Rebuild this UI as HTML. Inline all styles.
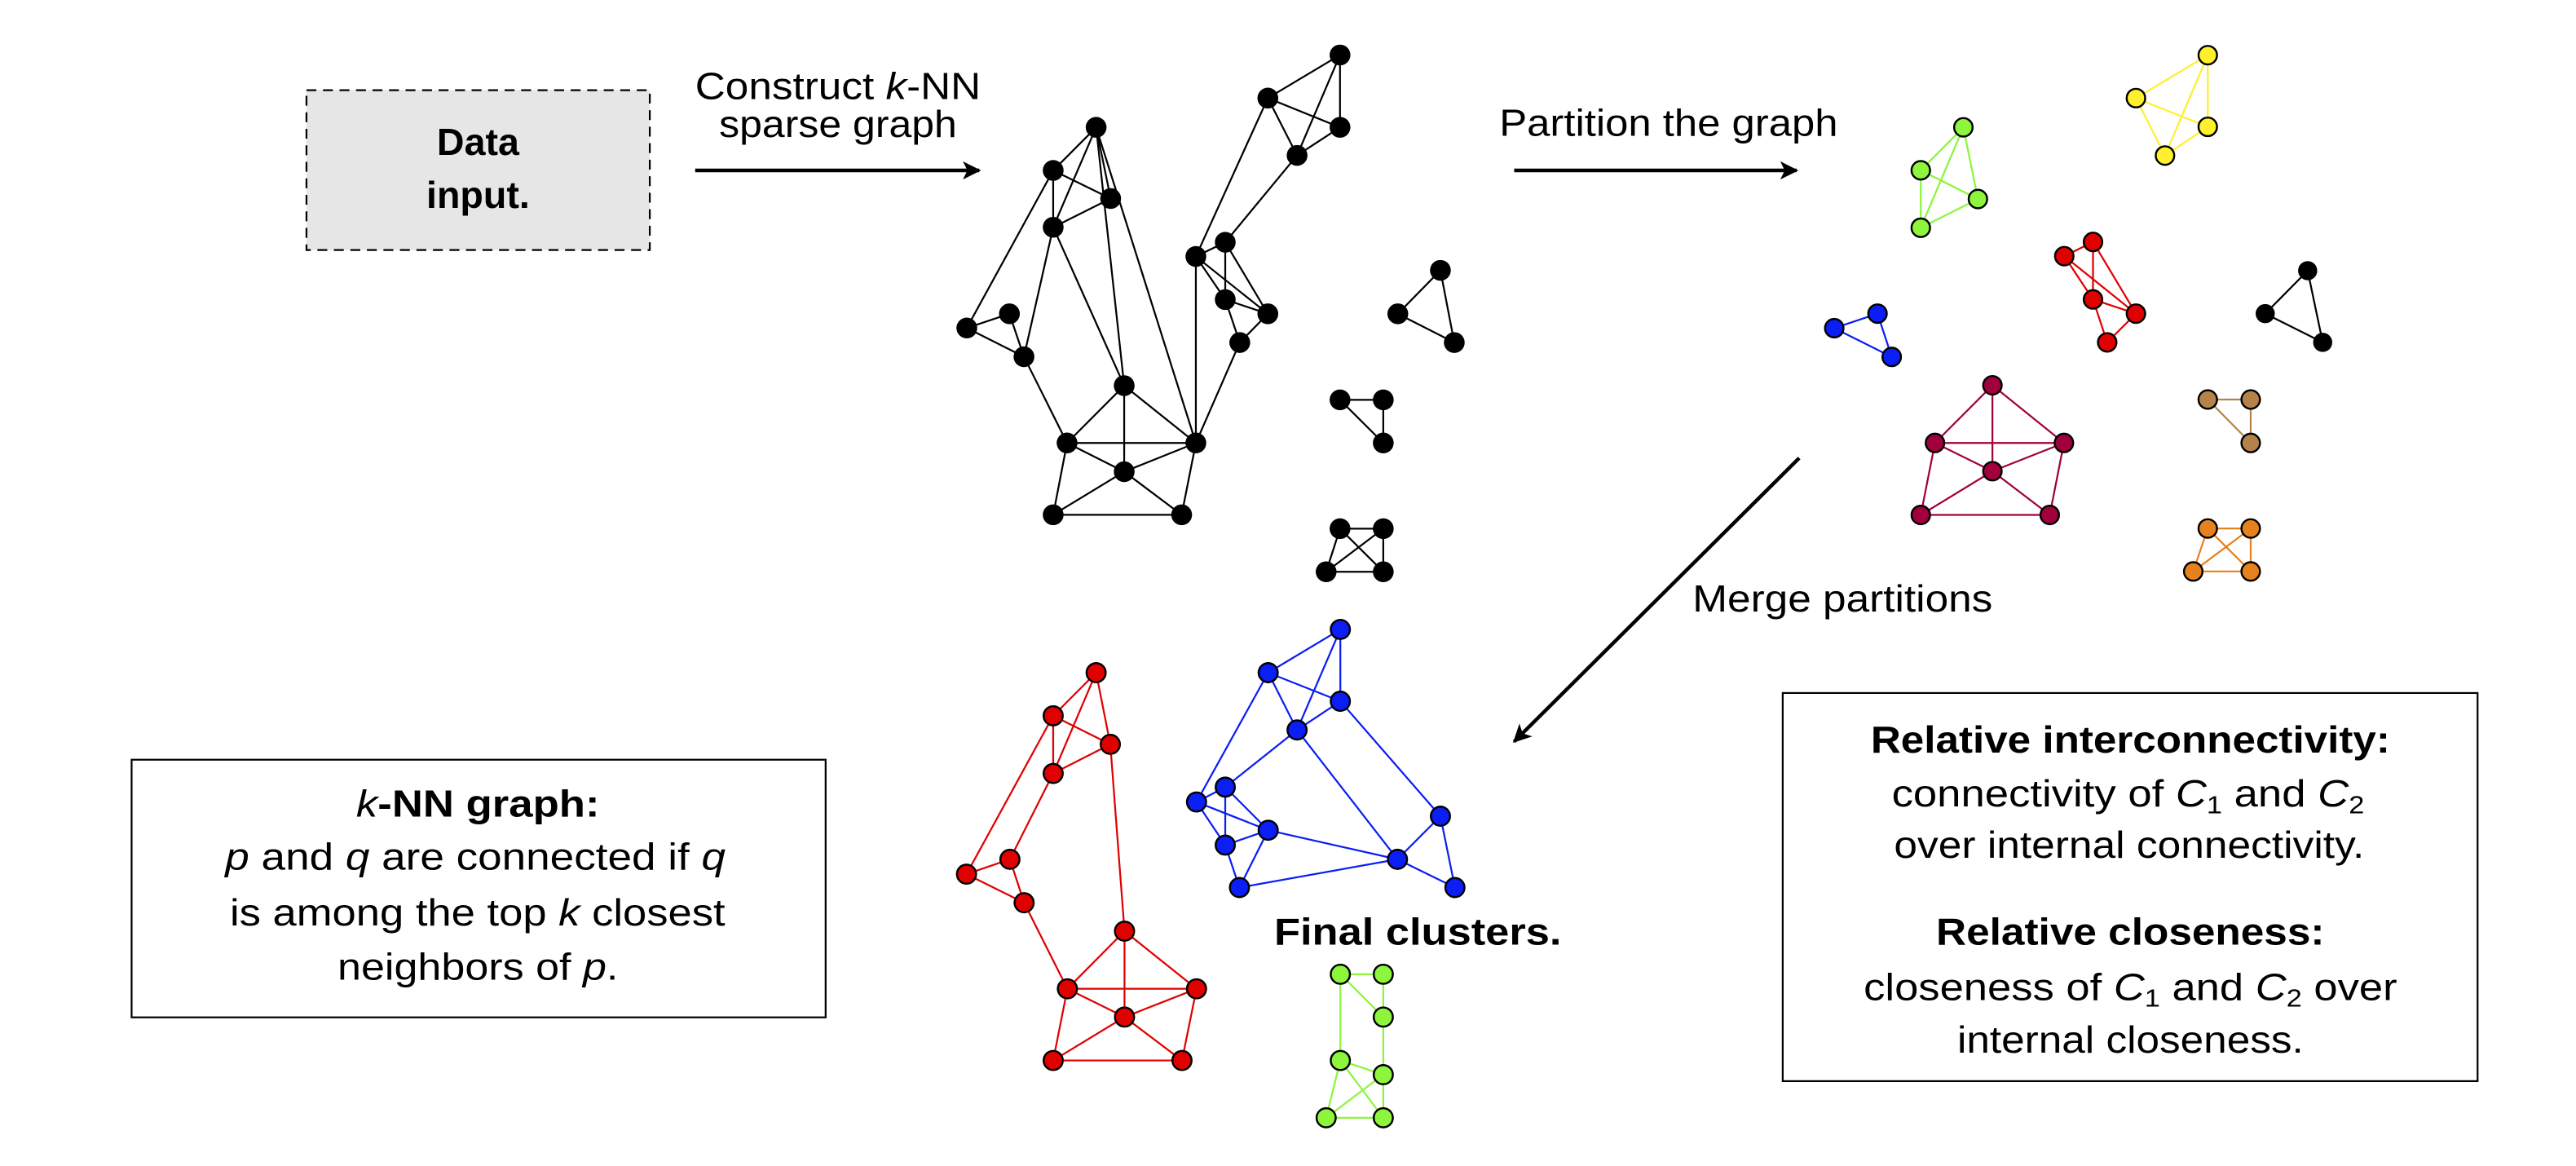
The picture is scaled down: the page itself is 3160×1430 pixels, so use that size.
<!DOCTYPE html>
<html><head><meta charset="utf-8"><style>
html,body{margin:0;padding:0;background:#fff;}
svg{display:block;}
text{font-family:"Liberation Sans",Arial,sans-serif;fill:#000;}
</style></head><body>
<svg width="3160" height="1430" viewBox="0 0 1560 706" preserveAspectRatio="none" xmlns="http://www.w3.org/2000/svg">
<defs>
<marker id="ah" viewBox="0 0 10 10" refX="9" refY="5" markerWidth="5" markerHeight="5" orient="auto" markerUnits="strokeWidth"><path d="M0,0 L10,5 L0,10 L2.5,5 z" fill="#000"/></marker>
</defs>

<!-- Data input box -->
<rect x="185.6" y="54.6" width="207.9" height="96.8" fill="#e6e6e6" stroke="#000" stroke-width="1.1" stroke-dasharray="6,4"/>
<text x="289.5" y="93.8" font-size="23" font-weight="bold" text-anchor="middle">Data</text>
<text x="289.5" y="125.9" font-size="23" font-weight="bold" text-anchor="middle">input.</text>

<!-- arrows -->
<line x1="421" y1="103.2" x2="593" y2="103.2" stroke="#000" stroke-width="2.2" marker-end="url(#ah)"/>
<line x1="917" y1="103.2" x2="1088" y2="103.2" stroke="#000" stroke-width="2.2" marker-end="url(#ah)"/>
<line x1="1089.6" y1="277.3" x2="917" y2="449" stroke="#000" stroke-width="2.2" marker-end="url(#ah)"/>

<text x="421" y="60" font-size="23" textLength="173" lengthAdjust="spacingAndGlyphs">Construct <tspan font-style="italic">k</tspan>-NN</text>
<text x="435.5" y="83" font-size="23" textLength="144" lengthAdjust="spacingAndGlyphs">sparse graph</text>
<text x="908" y="82.3" font-size="23" textLength="205" lengthAdjust="spacingAndGlyphs">Partition the graph</text>
<text x="1025" y="370.3" font-size="23" textLength="181.7" lengthAdjust="spacingAndGlyphs">Merge partitions</text>
<text x="771.6" y="571.9" font-size="23" font-weight="bold" textLength="174" lengthAdjust="spacingAndGlyphs">Final clusters.</text>

<!-- kNN box -->
<rect x="79.7" y="460" width="420.3" height="156" fill="#fff" stroke="#000" stroke-width="1.1"/>
<text x="215.7" y="494.5" font-size="23" font-weight="bold" textLength="147.4" lengthAdjust="spacingAndGlyphs"><tspan font-style="italic" font-weight="normal">k</tspan>-NN graph:</text>
<text x="136.4" y="526.6" font-size="23" textLength="303" lengthAdjust="spacingAndGlyphs"><tspan font-style="italic">p</tspan> and <tspan font-style="italic">q</tspan> are connected if <tspan font-style="italic">q</tspan></text>
<text x="139.2" y="560.3" font-size="23" textLength="300" lengthAdjust="spacingAndGlyphs">is among the top <tspan font-style="italic">k</tspan> closest</text>
<text x="204.4" y="593.2" font-size="23" textLength="170" lengthAdjust="spacingAndGlyphs">neighbors of <tspan font-style="italic">p</tspan>.</text>

<!-- right box -->
<rect x="1079.6" y="419.6" width="420.8" height="235" fill="#fff" stroke="#000" stroke-width="1.1"/>
<text x="1132.9" y="455.6" font-size="23" font-weight="bold" textLength="314.5" lengthAdjust="spacingAndGlyphs">Relative interconnectivity:</text>
<text x="1145.6" y="488.4" font-size="23" textLength="286.2" lengthAdjust="spacingAndGlyphs">connectivity of <tspan font-style="italic">C</tspan><tspan font-size="15" dy="4">1</tspan><tspan dy="-4"> and </tspan><tspan font-style="italic">C</tspan><tspan font-size="15" dy="4">2</tspan></text>
<text x="1147" y="519.5" font-size="23" textLength="284.8" lengthAdjust="spacingAndGlyphs">over internal connectivity.</text>
<text x="1172.5" y="571.9" font-size="23" font-weight="bold" textLength="235.2" lengthAdjust="spacingAndGlyphs">Relative closeness:</text>
<text x="1128.6" y="605.5" font-size="23" textLength="323.1" lengthAdjust="spacingAndGlyphs">closeness of <tspan font-style="italic">C</tspan><tspan font-size="15" dy="4">1</tspan><tspan dy="-4"> and </tspan><tspan font-style="italic">C</tspan><tspan font-size="15" dy="4">2</tspan><tspan dy="-4"> over</tspan></text>
<text x="1185.3" y="637.4" font-size="23" textLength="209.7" lengthAdjust="spacingAndGlyphs">internal closeness.</text>

<!-- Black kNN graph -->
<g stroke="#000" stroke-width="1.1">
<!-- A663.8,77.1 B637.8,103.2 C672.6,120.2 D637.8,137.6 E585.5,198.6 F611.3,190 G620.1,216 H680.8,233.5 I646.2,268.2 J724.2,268.2 K680.8,285.6 L637.8,311.7 M715.6,311.7 N811.5,33.3 O767.8,59.4 P811.5,77.1 Q785.5,94.1 R742,146.7 S724.2,155.3 T742,181.4 U767.8,190 V750.8,207.4 -->
<line x1="663.8" y1="77.1" x2="637.8" y2="103.2"/>
<line x1="663.8" y1="77.1" x2="637.8" y2="137.6"/>
<line x1="663.8" y1="77.1" x2="672.6" y2="120.2"/>
<line x1="663.8" y1="77.1" x2="680.8" y2="233.5"/>
<line x1="663.8" y1="77.1" x2="724.2" y2="268.2"/>
<line x1="637.8" y1="103.2" x2="672.6" y2="120.2"/>
<line x1="637.8" y1="103.2" x2="637.8" y2="137.6"/>
<line x1="637.8" y1="103.2" x2="585.5" y2="198.6"/>
<line x1="637.8" y1="137.6" x2="672.6" y2="120.2"/>
<line x1="637.8" y1="137.6" x2="620.1" y2="216"/>
<line x1="637.8" y1="137.6" x2="680.8" y2="233.5"/>
<line x1="585.5" y1="198.6" x2="611.3" y2="190"/>
<line x1="585.5" y1="198.6" x2="620.1" y2="216"/>
<line x1="611.3" y1="190" x2="620.1" y2="216"/>
<line x1="620.1" y1="216" x2="646.2" y2="268.2"/>
<line x1="680.8" y1="233.5" x2="646.2" y2="268.2"/>
<line x1="680.8" y1="233.5" x2="680.8" y2="285.6"/>
<line x1="680.8" y1="233.5" x2="724.2" y2="268.2"/>
<line x1="646.2" y1="268.2" x2="724.2" y2="268.2"/>
<line x1="646.2" y1="268.2" x2="680.8" y2="285.6"/>
<line x1="646.2" y1="268.2" x2="637.8" y2="311.7"/>
<line x1="724.2" y1="268.2" x2="680.8" y2="285.6"/>
<line x1="724.2" y1="268.2" x2="715.6" y2="311.7"/>
<line x1="680.8" y1="285.6" x2="637.8" y2="311.7"/>
<line x1="680.8" y1="285.6" x2="715.6" y2="311.7"/>
<line x1="637.8" y1="311.7" x2="715.6" y2="311.7"/>
<line x1="724.2" y1="268.2" x2="724.2" y2="155.3"/>
<line x1="724.2" y1="268.2" x2="750.8" y2="207.4"/>
<line x1="724.2" y1="155.3" x2="742" y2="146.7"/>
<line x1="724.2" y1="155.3" x2="742" y2="181.4"/>
<line x1="724.2" y1="155.3" x2="767.8" y2="190"/>
<line x1="742" y1="146.7" x2="742" y2="181.4"/>
<line x1="742" y1="146.7" x2="767.8" y2="190"/>
<line x1="742" y1="181.4" x2="767.8" y2="190"/>
<line x1="742" y1="181.4" x2="750.8" y2="207.4"/>
<line x1="767.8" y1="190" x2="750.8" y2="207.4"/>
<line x1="724.2" y1="155.3" x2="767.8" y2="59.4"/>
<line x1="742" y1="146.7" x2="785.5" y2="94.1"/>
<line x1="767.8" y1="59.4" x2="811.5" y2="33.3"/>
<line x1="767.8" y1="59.4" x2="811.5" y2="77.1"/>
<line x1="767.8" y1="59.4" x2="785.5" y2="94.1"/>
<line x1="811.5" y1="33.3" x2="811.5" y2="77.1"/>
<line x1="811.5" y1="33.3" x2="785.5" y2="94.1"/>
<line x1="811.5" y1="77.1" x2="785.5" y2="94.1"/>
<!-- small black groups -->
<line x1="872.3" y1="163.7" x2="846.5" y2="190"/>
<line x1="872.3" y1="163.7" x2="880.7" y2="207.4"/>
<line x1="846.5" y1="190" x2="880.7" y2="207.4"/>
<line x1="811.5" y1="242.1" x2="837.7" y2="242.1"/>
<line x1="837.7" y1="242.1" x2="837.7" y2="268.2"/>
<line x1="811.5" y1="242.1" x2="837.7" y2="268.2"/>
<line x1="811.5" y1="320.1" x2="837.7" y2="320.1"/>
<line x1="837.7" y1="320.1" x2="837.7" y2="346.2"/>
<line x1="803.1" y1="346.2" x2="837.7" y2="346.2"/>
<line x1="811.5" y1="320.1" x2="803.1" y2="346.2"/>
<line x1="811.5" y1="320.1" x2="837.7" y2="346.2"/>
<line x1="837.7" y1="320.1" x2="803.1" y2="346.2"/>
</g>
<g fill="#000">
<circle cx="663.8" cy="77.1" r="6.3"/><circle cx="637.8" cy="103.2" r="6.3"/><circle cx="672.6" cy="120.2" r="6.3"/><circle cx="637.8" cy="137.6" r="6.3"/>
<circle cx="585.5" cy="198.6" r="6.3"/><circle cx="611.3" cy="190" r="6.3"/><circle cx="620.1" cy="216" r="6.3"/><circle cx="680.8" cy="233.5" r="6.3"/>
<circle cx="646.2" cy="268.2" r="6.3"/><circle cx="724.2" cy="268.2" r="6.3"/><circle cx="680.8" cy="285.6" r="6.3"/><circle cx="637.8" cy="311.7" r="6.3"/>
<circle cx="715.6" cy="311.7" r="6.3"/><circle cx="811.5" cy="33.3" r="6.3"/><circle cx="767.8" cy="59.4" r="6.3"/><circle cx="811.5" cy="77.1" r="6.3"/>
<circle cx="785.5" cy="94.1" r="6.3"/><circle cx="742" cy="146.7" r="6.3"/><circle cx="724.2" cy="155.3" r="6.3"/><circle cx="742" cy="181.4" r="6.3"/>
<circle cx="767.8" cy="190" r="6.3"/><circle cx="750.8" cy="207.4" r="6.3"/>
<circle cx="872.3" cy="163.7" r="6.3"/><circle cx="846.5" cy="190" r="6.3"/><circle cx="880.7" cy="207.4" r="6.3"/>
<circle cx="811.5" cy="242.1" r="6.3"/><circle cx="837.7" cy="242.1" r="6.3"/><circle cx="837.7" cy="268.2" r="6.3"/>
<circle cx="811.5" cy="320.1" r="6.3"/><circle cx="837.7" cy="320.1" r="6.3"/><circle cx="803.1" cy="346.2" r="6.3"/><circle cx="837.7" cy="346.2" r="6.3"/>
</g>

<!-- Partitions -->
<!-- green K4 -->
<g stroke="#8cf53c" stroke-width="1.1">
<line x1="1189" y1="77.1" x2="1163.2" y2="103.1"/><line x1="1189" y1="77.1" x2="1197.8" y2="120.5"/><line x1="1189" y1="77.1" x2="1163.2" y2="137.9"/>
<line x1="1163.2" y1="103.1" x2="1197.8" y2="120.5"/><line x1="1163.2" y1="103.1" x2="1163.2" y2="137.9"/><line x1="1197.8" y1="120.5" x2="1163.2" y2="137.9"/>
</g>
<g fill="#8cf53c" stroke="#000" stroke-width="1.2">
<circle cx="1189" cy="77.1" r="5.6"/><circle cx="1163.2" cy="103.1" r="5.6"/><circle cx="1197.8" cy="120.5" r="5.6"/><circle cx="1163.2" cy="137.9" r="5.6"/>
</g>
<!-- yellow -->
<g stroke="#fff02e" stroke-width="1.1">
<line x1="1337" y1="33.4" x2="1293.5" y2="59.4"/><line x1="1337" y1="33.4" x2="1337" y2="76.8"/><line x1="1337" y1="33.4" x2="1311.1" y2="94.2"/>
<line x1="1293.5" y1="59.4" x2="1337" y2="76.8"/><line x1="1293.5" y1="59.4" x2="1311.1" y2="94.2"/><line x1="1337" y1="76.8" x2="1311.1" y2="94.2"/>
</g>
<g fill="#fff02e" stroke="#000" stroke-width="1.2">
<circle cx="1337" cy="33.4" r="5.6"/><circle cx="1293.5" cy="59.4" r="5.6"/><circle cx="1337" cy="76.8" r="5.6"/><circle cx="1311.1" cy="94.2" r="5.6"/>
</g>
<!-- blue small -->
<g stroke="#0a1ef5" stroke-width="1.1">
<line x1="1110.8" y1="198.7" x2="1137" y2="189.9"/><line x1="1110.8" y1="198.7" x2="1145.6" y2="216.1"/><line x1="1137" y1="189.9" x2="1145.6" y2="216.1"/>
</g>
<g fill="#0a1ef5" stroke="#000" stroke-width="1.2">
<circle cx="1110.8" cy="198.7" r="5.6"/><circle cx="1137" cy="189.9" r="5.6"/><circle cx="1145.6" cy="216.1" r="5.6"/>
</g>
<!-- red small -->
<g stroke="#e00000" stroke-width="1.1">
<line x1="1267.5" y1="146.5" x2="1250.1" y2="155.1"/><line x1="1267.5" y1="146.5" x2="1267.5" y2="181.3"/><line x1="1267.5" y1="146.5" x2="1293.5" y2="189.9"/>
<line x1="1250.1" y1="155.1" x2="1267.5" y2="181.3"/><line x1="1250.1" y1="155.1" x2="1293.5" y2="189.9"/><line x1="1267.5" y1="181.3" x2="1293.5" y2="189.9"/>
<line x1="1267.5" y1="181.3" x2="1276.1" y2="207.3"/><line x1="1293.5" y1="189.9" x2="1276.1" y2="207.3"/>
</g>
<g fill="#e00000" stroke="#000" stroke-width="1.2">
<circle cx="1267.5" cy="146.5" r="5.6"/><circle cx="1250.1" cy="155.1" r="5.6"/><circle cx="1267.5" cy="181.3" r="5.6"/><circle cx="1293.5" cy="189.9" r="5.6"/><circle cx="1276.1" cy="207.3" r="5.6"/>
</g>
<!-- black tri partition -->
<g stroke="#000" stroke-width="1.1">
<line x1="1397.5" y1="163.9" x2="1371.8" y2="189.9"/><line x1="1397.5" y1="163.9" x2="1406.6" y2="207.3"/><line x1="1371.8" y1="189.9" x2="1406.6" y2="207.3"/>
</g>
<g fill="#000"><circle cx="1397.5" cy="163.9" r="5.8"/><circle cx="1371.8" cy="189.9" r="5.8"/><circle cx="1406.6" cy="207.3" r="5.8"/></g>
<!-- maroon -->
<g stroke="#a0003c" stroke-width="1.1">
<line x1="1206.6" y1="233.3" x2="1171.8" y2="268.2"/><line x1="1206.6" y1="233.3" x2="1249.9" y2="268.2"/><line x1="1206.6" y1="233.3" x2="1206.6" y2="285.3"/>
<line x1="1171.8" y1="268.2" x2="1249.9" y2="268.2"/><line x1="1171.8" y1="268.2" x2="1206.6" y2="285.3"/><line x1="1249.9" y1="268.2" x2="1206.6" y2="285.3"/>
<line x1="1171.8" y1="268.2" x2="1163.2" y2="311.8"/><line x1="1206.6" y1="285.3" x2="1163.2" y2="311.8"/><line x1="1206.6" y1="285.3" x2="1241.3" y2="311.8"/>
<line x1="1249.9" y1="268.2" x2="1241.3" y2="311.8"/><line x1="1163.2" y1="311.8" x2="1241.3" y2="311.8"/>
</g>
<g fill="#a0003c" stroke="#000" stroke-width="1.2">
<circle cx="1206.6" cy="233.3" r="5.6"/><circle cx="1171.8" cy="268.2" r="5.6"/><circle cx="1249.9" cy="268.2" r="5.6"/><circle cx="1206.6" cy="285.3" r="5.6"/><circle cx="1163.2" cy="311.8" r="5.6"/><circle cx="1241.3" cy="311.8" r="5.6"/>
</g>
<!-- brown -->
<g stroke="#b5834a" stroke-width="1.1">
<line x1="1337" y1="241.9" x2="1363" y2="241.9"/><line x1="1363" y1="241.9" x2="1363" y2="268.2"/><line x1="1337" y1="241.9" x2="1363" y2="268.2"/>
</g>
<g fill="#b5834a" stroke="#000" stroke-width="1.2">
<circle cx="1337" cy="241.9" r="5.6"/><circle cx="1363" cy="241.9" r="5.6"/><circle cx="1363" cy="268.2" r="5.6"/>
</g>
<!-- orange -->
<g stroke="#e6821e" stroke-width="1.1">
<line x1="1337" y1="320" x2="1363" y2="320"/><line x1="1363" y1="320" x2="1363" y2="346"/><line x1="1328.2" y1="346" x2="1363" y2="346"/>
<line x1="1337" y1="320" x2="1328.2" y2="346"/><line x1="1337" y1="320" x2="1363" y2="346"/><line x1="1363" y1="320" x2="1328.2" y2="346"/>
</g>
<g fill="#e6821e" stroke="#000" stroke-width="1.2">
<circle cx="1337" cy="320" r="5.6"/><circle cx="1363" cy="320" r="5.6"/><circle cx="1328.2" cy="346" r="5.6"/><circle cx="1363" cy="346" r="5.6"/>
</g>

<!-- Final clusters: red -->
<g stroke="#e00000" stroke-width="1.1">
<line x1="663.8" y1="407.3" x2="637.8" y2="433.4"/><line x1="663.8" y1="407.3" x2="637.8" y2="468.3"/><line x1="663.8" y1="407.3" x2="672.4" y2="450.7"/>
<line x1="637.8" y1="433.4" x2="672.4" y2="450.7"/><line x1="637.8" y1="433.4" x2="637.8" y2="468.3"/><line x1="672.4" y1="450.7" x2="637.8" y2="468.3"/>
<line x1="637.8" y1="433.4" x2="585.3" y2="529.3"/><line x1="637.8" y1="468.3" x2="611.6" y2="520.3"/><line x1="611.6" y1="520.3" x2="585.3" y2="529.3"/>
<line x1="585.3" y1="529.3" x2="620.2" y2="546.6"/><line x1="611.6" y1="520.3" x2="620.2" y2="546.6"/><line x1="620.2" y1="546.6" x2="646.4" y2="598.7"/>
<line x1="672.4" y1="450.7" x2="681" y2="563.8"/>
<line x1="681" y1="563.8" x2="646.4" y2="598.7"/><line x1="681" y1="563.8" x2="724.6" y2="598.7"/><line x1="681" y1="563.8" x2="681" y2="615.8"/>
<line x1="646.4" y1="598.7" x2="724.6" y2="598.7"/><line x1="646.4" y1="598.7" x2="681" y2="615.8"/><line x1="724.6" y1="598.7" x2="681" y2="615.8"/>
<line x1="646.4" y1="598.7" x2="637.8" y2="642.1"/><line x1="681" y1="615.8" x2="637.8" y2="642.1"/><line x1="681" y1="615.8" x2="715.8" y2="642.1"/>
<line x1="724.6" y1="598.7" x2="715.8" y2="642.1"/><line x1="637.8" y1="642.1" x2="715.8" y2="642.1"/>
</g>
<g fill="#e00000" stroke="#000" stroke-width="1.2">
<circle cx="663.8" cy="407.3" r="5.8"/><circle cx="637.8" cy="433.4" r="5.8"/><circle cx="672.4" cy="450.7" r="5.8"/><circle cx="637.8" cy="468.3" r="5.8"/>
<circle cx="611.6" cy="520.3" r="5.8"/><circle cx="585.3" cy="529.3" r="5.8"/><circle cx="620.2" cy="546.6" r="5.8"/><circle cx="681" cy="563.8" r="5.8"/>
<circle cx="646.4" cy="598.7" r="5.8"/><circle cx="724.6" cy="598.7" r="5.8"/><circle cx="681" cy="615.8" r="5.8"/><circle cx="637.8" cy="642.1" r="5.8"/><circle cx="715.8" cy="642.1" r="5.8"/>
</g>
<!-- blue final -->
<g stroke="#0a1ef5" stroke-width="1.1">
<line x1="811.7" y1="381.1" x2="768" y2="407.3"/><line x1="811.7" y1="381.1" x2="811.7" y2="424.6"/><line x1="811.7" y1="381.1" x2="785.5" y2="442"/>
<line x1="768" y1="407.3" x2="811.7" y2="424.6"/><line x1="768" y1="407.3" x2="785.5" y2="442"/><line x1="811.7" y1="424.6" x2="785.5" y2="442"/>
<line x1="768" y1="407.3" x2="724.6" y2="485.6"/><line x1="785.5" y1="442" x2="742" y2="476.6"/><line x1="785.5" y1="442" x2="846.3" y2="520.3"/>
<line x1="811.7" y1="424.6" x2="872.3" y2="494.2"/>
<line x1="742" y1="476.6" x2="724.6" y2="485.6"/><line x1="742" y1="476.6" x2="742" y2="511.7"/><line x1="742" y1="476.6" x2="768" y2="502.7"/>
<line x1="724.6" y1="485.6" x2="768" y2="502.7"/><line x1="724.6" y1="485.6" x2="742" y2="511.7"/><line x1="768" y1="502.7" x2="742" y2="511.7"/>
<line x1="768" y1="502.7" x2="750.6" y2="537.4"/><line x1="742" y1="511.7" x2="750.6" y2="537.4"/><line x1="768" y1="502.7" x2="846.3" y2="520.3"/>
<line x1="750.6" y1="537.4" x2="846.3" y2="520.3"/><line x1="872.3" y1="494.2" x2="846.3" y2="520.3"/><line x1="872.3" y1="494.2" x2="881.1" y2="537.4"/>
<line x1="846.3" y1="520.3" x2="881.1" y2="537.4"/>
</g>
<g fill="#0a1ef5" stroke="#000" stroke-width="1.2">
<circle cx="811.7" cy="381.1" r="5.8"/><circle cx="768" cy="407.3" r="5.8"/><circle cx="811.7" cy="424.6" r="5.8"/><circle cx="785.5" cy="442" r="5.8"/>
<circle cx="742" cy="476.6" r="5.8"/><circle cx="724.6" cy="485.6" r="5.8"/><circle cx="768" cy="502.7" r="5.8"/><circle cx="742" cy="511.7" r="5.8"/>
<circle cx="750.6" cy="537.4" r="5.8"/><circle cx="872.3" cy="494.2" r="5.8"/><circle cx="846.3" cy="520.3" r="5.8"/><circle cx="881.1" cy="537.4" r="5.8"/>
</g>
<!-- green final -->
<g stroke="#8cf53c" stroke-width="1.1">
<line x1="811.7" y1="589.9" x2="837.7" y2="589.9"/><line x1="811.7" y1="589.9" x2="837.7" y2="615.8"/><line x1="837.7" y1="589.9" x2="837.7" y2="615.8"/>
<line x1="811.7" y1="589.9" x2="811.7" y2="642.1"/><line x1="837.7" y1="615.8" x2="837.7" y2="650.7"/><line x1="811.7" y1="642.1" x2="837.7" y2="650.7"/>
<line x1="811.7" y1="642.1" x2="837.7" y2="676.8"/><line x1="811.7" y1="642.1" x2="803.1" y2="676.8"/><line x1="837.7" y1="650.7" x2="803.1" y2="676.8"/>
<line x1="837.7" y1="650.7" x2="837.7" y2="676.8"/><line x1="803.1" y1="676.8" x2="837.7" y2="676.8"/>
</g>
<g fill="#8cf53c" stroke="#000" stroke-width="1.2">
<circle cx="811.7" cy="589.9" r="5.8"/><circle cx="837.7" cy="589.9" r="5.8"/><circle cx="837.7" cy="615.8" r="5.8"/><circle cx="811.7" cy="642.1" r="5.8"/>
<circle cx="837.7" cy="650.7" r="5.8"/><circle cx="803.1" cy="676.8" r="5.8"/><circle cx="837.7" cy="676.8" r="5.8"/>
</g>
</svg>
</body></html>
